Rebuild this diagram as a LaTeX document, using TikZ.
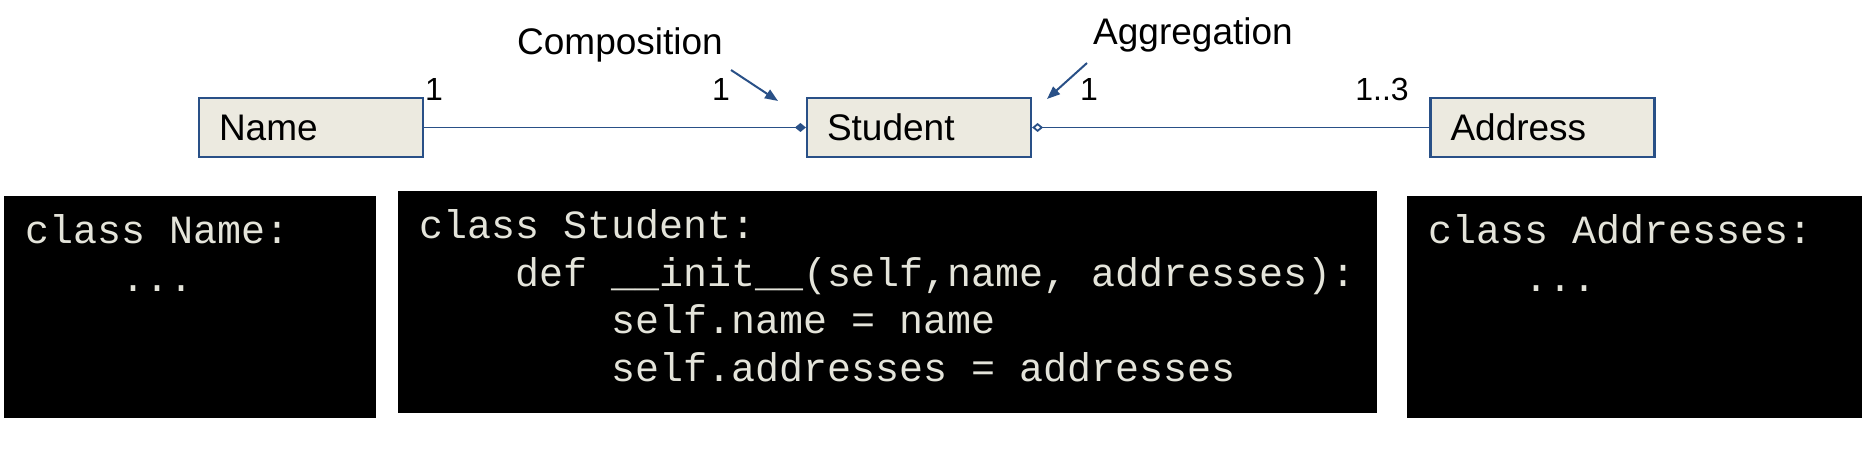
\documentclass[tikz,border=0pt]{standalone}
\usepackage{fontspec}
\setmainfont{Liberation Sans}
\setmonofont{Liberation Mono}
\usetikzlibrary{positioning, arrows.meta}

\definecolor{umlblue}{RGB}{41,80,135}
\definecolor{umlfill}{RGB}{236,234,224}
\definecolor{codefg}{RGB}{228,228,218}

\newcommand{\codetab}{\hspace*{2.4em}}

\tikzset{
    classbox/.style={draw=umlblue, fill=umlfill, line width=1.1pt, minimum height=29.5pt,
        text width=92pt, inner xsep=10pt, align=left, font=\fontsize{18.5}{22}\selectfont},
    codebox/.style={fill=black, text=codefg, anchor=north west, inner xsep=10.5pt, inner ysep=0pt,
        font=\ttfamily\fontsize{20}{23.75}\selectfont},
    mult/.style={font=\fontsize{16}{19}\selectfont, inner sep=0pt, anchor=base},
    note/.style={font=\fontsize{18.5}{22}\selectfont, inner sep=0pt, anchor=base},
    assoc/.style={draw=umlblue, line width=0.9pt},
    pointer/.style={draw=umlblue, line width=1pt, -{Triangle[length=6.5pt,width=5pt]}, umlblue}
}

\begin{document}
\begin{tikzpicture}[x=0.5pt, y=-0.5pt, node distance=304pt, on grid]
    \useasboundingbox (0,0) rectangle (1862,464);

    % Define classes
    \node[classbox] (name) at (311,127.5) {Name};
    \node[classbox] (student) [right=of name] {Student};
    \node[classbox] (address) [right=311.75pt of student] {Address};

    % Define relations
    \draw[assoc, {Diamond[length=5.5pt,width=4.5pt]}-] (student.west) -- (name.east);
    \draw[assoc, {Diamond[open,length=5.5pt,width=4.5pt]}-] (student.east) -- (address.west);

    % Multiplicities
    \node[mult] (mName) at (434,101) {1};
    \node[mult] (mStudentL) at (721,101) {1};
    \node[mult] (mStudentR) at (1089,101) {1};
    \node[mult] (mAddress) at (1382,101) {1..3};

    % Notes
    \node[note] (comp) at (620,55) {Composition};
    \node[note] (aggr) at (1193,45) {Aggregation};
    \coordinate (compTail) at (731,70);
    \coordinate (compTip) at (778,101);
    \coordinate (aggrTail) at (1087,63);
    \coordinate (aggrTip) at (1047,99);
    \draw[pointer] (compTail) -- (compTip);
    \draw[pointer] (aggrTail) -- (aggrTip);

    % Code
    \node[codebox] (nameCode) at (4,196) {\parbox[t][111pt][t]{165pt}{\rule{0pt}{23.75pt}class Name:\\
        \codetab ...}};
    \node[codebox] (studentCode) at (398,191) {\parbox[t][111pt][t]{468.5pt}{\rule{0pt}{23.75pt}class Student:\\
        \codetab def \_\_init\_\_(self,name, addresses):\\
        \codetab\codetab self.name = name\\
        \codetab\codetab self.addresses = addresses}};
    \node[codebox] (addressCode) at (1407,196) {\parbox[t][111pt][t]{206.5pt}{\rule{0pt}{23.75pt}class Addresses:\\
        \codetab ...}};
\end{tikzpicture}
\end{document}
